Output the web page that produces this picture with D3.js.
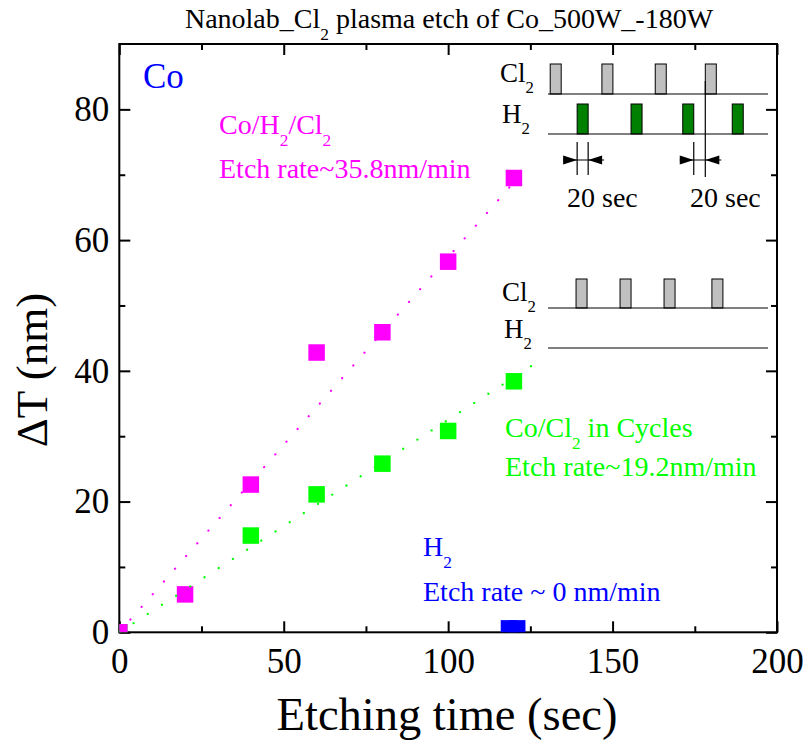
<!DOCTYPE html>
<html><head><meta charset="utf-8">
<script src="https://cdn.jsdelivr.net/npm/d3@7"></script>
<style>body{margin:0;background:#fff}svg{display:block}text{font-family:"Liberation Serif","Times New Roman",serif}</style>
</head><body><svg id="c" width="807" height="742"></svg>
<script>
// ---- data ----
const magentaX = [0, 20, 40, 60, 80, 100, 120];
const magentaY = [0, 5.8, 22.6, 42.8, 45.9, 56.7, 69.5];
const greenX = [0, 40, 60, 80, 100, 120];
const greenY = [0, 14.8, 21.1, 25.8, 30.8, 38.4];
const blueX = [118.5, 121];
const blueY = [0.6, 0.6];
const magentaFitX = [0, 122], magentaFitY = [0, 70.0];
const greenFitX = [0, 127], greenFitY = [0, 41.3];
const xMajor = [0, 50, 100, 150, 200], xMinor = [25, 75, 125, 175];
const yMajor = [0, 20, 40, 60, 80], yMinor = [10, 30, 50, 70];
// inset schematic (pulse start times, schematic seconds)
const cl2Pulses = [4, 98, 195, 286];
const h2Pulses = [53, 151, 245, 335];
const cl2CyclePulses = [51, 131, 211, 298];
const pulseLen = 20;

const svg = d3.select("#c");
const L = 119.3, R = 777, T = 44, B = 632.3;
const x = d3.scaleLinear().domain([0, 200]).range([L, R]);
const y = d3.scaleLinear().domain([0, 90]).range([B, T]);
const FONT = '"Liberation Serif","Times New Roman",serif';

svg.append("defs").append("clipPath").attr("id", "clip")
  .append("rect").attr("x", L).attr("y", T).attr("width", R - L).attr("height", B - T);

// text with subscripts
function rich(x0, y0, parts, size, color, anchor) {
  const t = svg.append("text").attr("x", x0).attr("y", y0)
    .attr("font-size", size).attr("fill", color).attr("text-anchor", anchor || "start");
  let shifted = false;
  parts.forEach(p => {
    const isSub = Array.isArray(p);
    const s = isSub ? p[0] : p;
    const ts = t.append("tspan").text(s);
    if (isSub && !shifted) { ts.attr("dy", size * 0.42).attr("font-size", size * 0.62); shifted = true; }
    else if (!isSub && shifted) { ts.attr("dy", -size * 0.42); shifted = false; }
    else if (isSub) ts.attr("font-size", size * 0.62);
  });
  return t;
}

// title
rich(449, 28, ["Nanolab_Cl", ["2"], " plasma etch of Co_500W_-180W"], 28, "#000", "middle");

// axes ticks
function styleAxis(g) {
  g.select(".domain").remove();
  g.selectAll(".tick line").attr("stroke", "#000").attr("stroke-width", 2);
  g.selectAll(".tick text").attr("font-family", FONT).attr("font-size", 35).attr("fill", "#000");
}
svg.append("g").attr("transform", `translate(0,${B})`)
  .call(d3.axisBottom(x).tickValues(xMajor).tickSizeInner(-11).tickSizeOuter(0).tickPadding(16)).call(styleAxis);
svg.append("g").attr("transform", `translate(0,${B})`)
  .call(d3.axisBottom(x).tickValues(xMinor).tickSizeInner(-6).tickSizeOuter(0).tickFormat("")).call(styleAxis);
svg.append("g").attr("transform", `translate(0,${T})`)
  .call(d3.axisTop(x).tickValues(xMajor).tickSizeInner(-11).tickSizeOuter(0).tickFormat("")).call(styleAxis);
svg.append("g").attr("transform", `translate(0,${T})`)
  .call(d3.axisTop(x).tickValues(xMinor).tickSizeInner(-6).tickSizeOuter(0).tickFormat("")).call(styleAxis);
svg.append("g").attr("transform", `translate(${L},0)`)
  .call(d3.axisLeft(y).tickValues(yMajor).tickSizeInner(-11).tickSizeOuter(0).tickPadding(10)).call(styleAxis);
svg.append("g").attr("transform", `translate(${L},0)`)
  .call(d3.axisLeft(y).tickValues(yMinor).tickSizeInner(-6).tickSizeOuter(0).tickFormat("")).call(styleAxis);
svg.append("g").attr("transform", `translate(${R},0)`)
  .call(d3.axisRight(y).tickValues(yMajor).tickSizeInner(-11).tickSizeOuter(0).tickFormat("")).call(styleAxis);
svg.append("g").attr("transform", `translate(${R},0)`)
  .call(d3.axisRight(y).tickValues(yMinor).tickSizeInner(-6).tickSizeOuter(0).tickFormat("")).call(styleAxis);

// frame
svg.append("rect").attr("x", L).attr("y", T).attr("width", R - L).attr("height", B - T)
  .attr("fill", "none").attr("stroke", "#000").attr("stroke-width", 2);

// axis titles
svg.append("text").attr("x", 447).attr("y", 730).attr("text-anchor", "middle")
  .attr("font-size", 46.5).text("Etching time (sec)");
svg.append("text").attr("transform", "translate(47,370) rotate(-90)").attr("text-anchor", "middle")
  .attr("font-size", 45).text("ΔT (nm)");

// data
const plot = svg.append("g").attr("clip-path", "url(#clip)");
const S = 16.5;
function squares(xs, ys, color) {
  plot.append("g").selectAll("rect").data(xs.map((d, i) => [d, ys[i]])).join("rect")
    .attr("x", d => x(d[0]) - S / 2).attr("y", d => y(d[1]) - S / 2)
    .attr("width", S).attr("height", S).attr("fill", color);
}
function fit(xs, ys, color) {
  const line = d3.line().x(d => x(d[0])).y(d => y(d[1]));
  plot.append("path").attr("d", line(xs.map((d, i) => [d, ys[i]])))
    .attr("fill", "none").attr("stroke", color).attr("stroke-width", 2.2)
    .attr("stroke-linecap", "round").attr("stroke-dasharray", "0.1 16.8");
}
squares(greenX, greenY, "#00FF00");
squares(magentaX, magentaY, "#FF00FF");
squares(blueX, blueY, "#0000FF");
fit(magentaFitX, magentaFitY, "#FF00FF");
fit(greenFitX, greenFitY, "#00FF00");

// annotations
svg.append("text").attr("x", 143).attr("y", 88).attr("font-size", 35).attr("fill", "#0000FF").text("Co");
rich(219, 134, ["Co/H", ["2"], "/Cl", ["2"]], 28, "#FF00FF");
rich(219, 178, ["Etch rate~35.8nm/min"], 28, "#FF00FF");
rich(505, 437, ["Co/Cl", ["2"], " in Cycles"], 28, "#00FF00");
rich(505, 476, ["Etch rate~19.2nm/min"], 28, "#00FF00");
rich(423, 556, ["H", ["2"]], 28, "#0000FF");
rich(423, 601, ["Etch rate ~ 0 nm/min"], 28, "#0000FF");

// inset schematic
const ix = d3.scaleLinear().domain([0, 400]).range([548, 768]);
function baseLine(yy) {
  svg.append("line").attr("x1", ix(0)).attr("x2", ix(400)).attr("y1", yy).attr("y2", yy)
    .attr("stroke", "#000").attr("stroke-width", 1.2);
}
function pulses(starts, yBase, h, color) {
  svg.append("g").selectAll("rect").data(starts).join("rect")
    .attr("x", d => ix(d)).attr("y", yBase - h).attr("width", ix(d3.min(starts) + pulseLen) - ix(d3.min(starts)))
    .attr("height", h).attr("fill", color).attr("stroke", "#000").attr("stroke-width", 1);
}
// top inset
rich(500, 82, ["Cl", ["2"]], 27, "#000");
rich(502, 123, ["H", ["2"]], 27, "#000");
pulses(cl2Pulses, 94, 30, "#C0C0C0");
pulses(h2Pulses, 134, 30, "#008000");
baseLine(94); baseLine(134);
// dimension marks
function vline(xx, y1, y2) {
  svg.append("line").attr("x1", xx).attr("x2", xx).attr("y1", y1).attr("y2", y2).attr("stroke", "#000").attr("stroke-width", 1.2);
}
function arrow(tip, dir, yy) { // dir = +1 pointing right, -1 pointing left
  const len = 14, hh = 4.5;
  svg.append("path").attr("d", `M${tip},${yy} L${tip - dir * len},${yy - hh} L${tip - dir * len},${yy + hh} Z`).attr("fill", "#000");
}
const d1a = ix(h2Pulses[0]), d1b = ix(h2Pulses[0] + pulseLen);
const d2a = ix(h2Pulses[2] + pulseLen), d2b = ix(cl2Pulses[3]);
vline(d1a, 142, 175); vline(d1b, 142, 175);
vline(d2a, 142, 175); vline(d2b, 81, 177);
const ya = 160;
svg.append("line").attr("x1", d1a - 14).attr("x2", d1b + 16).attr("y1", ya).attr("y2", ya).attr("stroke", "#000").attr("stroke-width", 1.2);
arrow(d1a, 1, ya); arrow(d1b, -1, ya);
svg.append("line").attr("x1", d2a - 14).attr("x2", d2b + 16).attr("y1", ya).attr("y2", ya).attr("stroke", "#000").attr("stroke-width", 1.2);
arrow(d2a, 1, ya); arrow(d2b, -1, ya);
rich(567, 207, ["20 sec"], 28, "#000");
rich(690, 207, ["20 sec"], 28, "#000");

// middle inset
rich(502, 301, ["Cl", ["2"]], 27, "#000");
rich(504, 338, ["H", ["2"]], 27, "#000");
pulses(cl2CyclePulses, 308, 29, "#C0C0C0");
baseLine(308); baseLine(348);
</script></body></html>
